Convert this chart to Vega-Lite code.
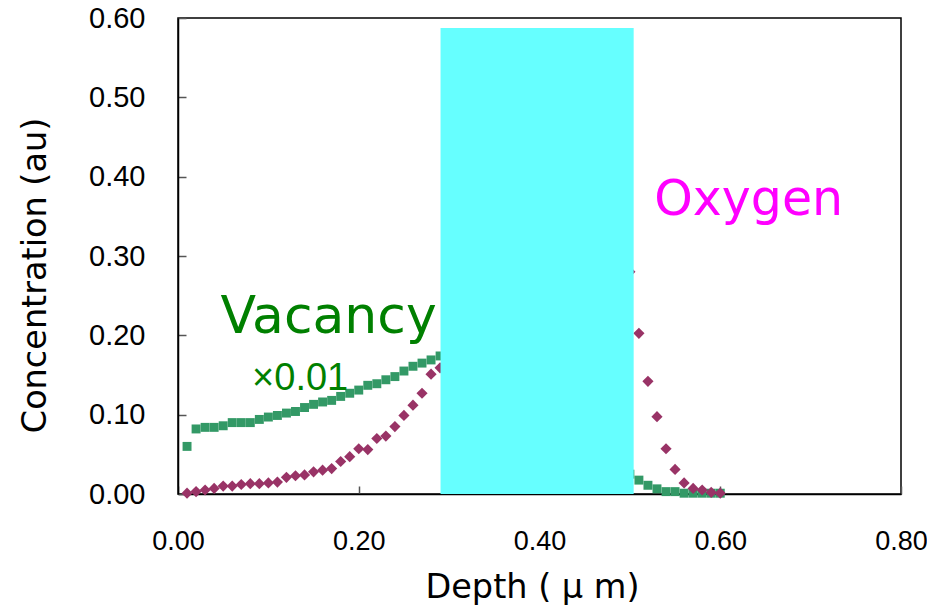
{
  "$schema": "https://vega.github.io/schema/vega-lite/v6.json",
  "autosize": {"type": "none"},
  "width": 723,
  "height": 476,
  "padding": {"left": 178, "top": 18, "right": 26, "bottom": 114},
  "background": "white",
  "config": {
    "view": {"stroke": "black", "strokeWidth": 1.5},
    "axis": {
      "grid": false,
      "domainColor": "black",
      "domainWidth": 1.5,
      "tickColor": "#555555",
      "tickWidth": 1.5,
      "labelFont": "Liberation Sans, Arial",
      "labelFontSize": 29,
      "labelColor": "black",
      "labelFlush": false,
      "labelOverlap": false,
      "titleFont": "DejaVu Sans",
      "titleFontWeight": "normal",
      "titleFontSize": 33.5,
      "titleColor": "black"
    }
  },
  "datasets": {
    "profile": [
      {"depth": 0.01, "species": "Vacancy", "conc": 0.060},
      {"depth": 0.02, "species": "Vacancy", "conc": 0.082},
      {"depth": 0.03, "species": "Vacancy", "conc": 0.084},
      {"depth": 0.04, "species": "Vacancy", "conc": 0.084},
      {"depth": 0.05, "species": "Vacancy", "conc": 0.086},
      {"depth": 0.06, "species": "Vacancy", "conc": 0.090},
      {"depth": 0.07, "species": "Vacancy", "conc": 0.090},
      {"depth": 0.08, "species": "Vacancy", "conc": 0.090},
      {"depth": 0.09, "species": "Vacancy", "conc": 0.094},
      {"depth": 0.10, "species": "Vacancy", "conc": 0.097},
      {"depth": 0.11, "species": "Vacancy", "conc": 0.099},
      {"depth": 0.12, "species": "Vacancy", "conc": 0.102},
      {"depth": 0.13, "species": "Vacancy", "conc": 0.104},
      {"depth": 0.14, "species": "Vacancy", "conc": 0.109},
      {"depth": 0.15, "species": "Vacancy", "conc": 0.113},
      {"depth": 0.16, "species": "Vacancy", "conc": 0.116},
      {"depth": 0.17, "species": "Vacancy", "conc": 0.118},
      {"depth": 0.18, "species": "Vacancy", "conc": 0.123},
      {"depth": 0.19, "species": "Vacancy", "conc": 0.127},
      {"depth": 0.20, "species": "Vacancy", "conc": 0.131},
      {"depth": 0.21, "species": "Vacancy", "conc": 0.137},
      {"depth": 0.22, "species": "Vacancy", "conc": 0.139},
      {"depth": 0.23, "species": "Vacancy", "conc": 0.144},
      {"depth": 0.24, "species": "Vacancy", "conc": 0.148},
      {"depth": 0.25, "species": "Vacancy", "conc": 0.155},
      {"depth": 0.26, "species": "Vacancy", "conc": 0.161},
      {"depth": 0.27, "species": "Vacancy", "conc": 0.165},
      {"depth": 0.28, "species": "Vacancy", "conc": 0.169},
      {"depth": 0.29, "species": "Vacancy", "conc": 0.174},
      {"depth": 0.50, "species": "Vacancy", "conc": 0.025},
      {"depth": 0.51, "species": "Vacancy", "conc": 0.0175},
      {"depth": 0.52, "species": "Vacancy", "conc": 0.011},
      {"depth": 0.53, "species": "Vacancy", "conc": 0.0065},
      {"depth": 0.54, "species": "Vacancy", "conc": 0.003},
      {"depth": 0.55, "species": "Vacancy", "conc": 0.003},
      {"depth": 0.56, "species": "Vacancy", "conc": 0.001},
      {"depth": 0.57, "species": "Vacancy", "conc": 0.001},
      {"depth": 0.58, "species": "Vacancy", "conc": 0.001},
      {"depth": 0.59, "species": "Vacancy", "conc": 0.001},
      {"depth": 0.60, "species": "Vacancy", "conc": 0.001},
      {"depth": 0.01, "species": "Oxygen", "conc": 0.001},
      {"depth": 0.02, "species": "Oxygen", "conc": 0.003},
      {"depth": 0.03, "species": "Oxygen", "conc": 0.005},
      {"depth": 0.04, "species": "Oxygen", "conc": 0.007},
      {"depth": 0.05, "species": "Oxygen", "conc": 0.010},
      {"depth": 0.06, "species": "Oxygen", "conc": 0.010},
      {"depth": 0.07, "species": "Oxygen", "conc": 0.012},
      {"depth": 0.08, "species": "Oxygen", "conc": 0.013},
      {"depth": 0.09, "species": "Oxygen", "conc": 0.013},
      {"depth": 0.10, "species": "Oxygen", "conc": 0.014},
      {"depth": 0.11, "species": "Oxygen", "conc": 0.015},
      {"depth": 0.12, "species": "Oxygen", "conc": 0.021},
      {"depth": 0.13, "species": "Oxygen", "conc": 0.023},
      {"depth": 0.14, "species": "Oxygen", "conc": 0.024},
      {"depth": 0.15, "species": "Oxygen", "conc": 0.028},
      {"depth": 0.16, "species": "Oxygen", "conc": 0.030},
      {"depth": 0.17, "species": "Oxygen", "conc": 0.032},
      {"depth": 0.18, "species": "Oxygen", "conc": 0.041},
      {"depth": 0.19, "species": "Oxygen", "conc": 0.047},
      {"depth": 0.20, "species": "Oxygen", "conc": 0.057},
      {"depth": 0.21, "species": "Oxygen", "conc": 0.056},
      {"depth": 0.22, "species": "Oxygen", "conc": 0.070},
      {"depth": 0.23, "species": "Oxygen", "conc": 0.073},
      {"depth": 0.24, "species": "Oxygen", "conc": 0.085},
      {"depth": 0.25, "species": "Oxygen", "conc": 0.099},
      {"depth": 0.26, "species": "Oxygen", "conc": 0.112},
      {"depth": 0.27, "species": "Oxygen", "conc": 0.127},
      {"depth": 0.28, "species": "Oxygen", "conc": 0.151},
      {"depth": 0.29, "species": "Oxygen", "conc": 0.159},
      {"depth": 0.50, "species": "Oxygen", "conc": 0.280},
      {"depth": 0.51, "species": "Oxygen", "conc": 0.2025},
      {"depth": 0.52, "species": "Oxygen", "conc": 0.142},
      {"depth": 0.53, "species": "Oxygen", "conc": 0.0975},
      {"depth": 0.54, "species": "Oxygen", "conc": 0.057},
      {"depth": 0.55, "species": "Oxygen", "conc": 0.031},
      {"depth": 0.56, "species": "Oxygen", "conc": 0.014},
      {"depth": 0.57, "species": "Oxygen", "conc": 0.007},
      {"depth": 0.58, "species": "Oxygen", "conc": 0.005},
      {"depth": 0.59, "species": "Oxygen", "conc": 0.002},
      {"depth": 0.60, "species": "Oxygen", "conc": 0.001}
    ],
    "band": [
      {"depth": 0.2905, "depthEnd": 0.5042, "conc": 0, "concEnd": 0.5875}
    ],
    "notes": [
      {"depth": 0.047, "conc": 0.2035, "label": "Vacancy", "kind": "big-green"},
      {"depth": 0.082, "conc": 0.1316, "label": "×0.01", "kind": "small-green"},
      {"depth": 0.527, "conc": 0.352, "label": "Oxygen", "kind": "big-magenta"}
    ]
  },
  "encoding": {
    "x": {
      "field": "depth",
      "type": "quantitative",
      "scale": {"domain": [0, 0.8], "nice": false, "zero": false},
      "axis": {
        "values": [0, 0.2, 0.4, 0.6, 0.8],
        "format": ".2f",
        "tickSize": -8,
        "labelFontSize": 27,
        "labelPadding": 42,
        "title": "Depth ( μ m)",
        "titleX": 354,
        "titleY": 103,
        "titleBaseline": "alphabetic"
      }
    },
    "y": {
      "field": "conc",
      "type": "quantitative",
      "scale": {"domain": [0, 0.6], "nice": false},
      "axis": {
        "values": [0, 0.1, 0.2, 0.3, 0.4, 0.5, 0.6],
        "format": ".2f",
        "tickSize": -8,
        "labelPadding": 41,
        "title": "Concentration (au)",
        "titleAngle": -90,
        "titleX": -133,
        "titleY": 257,
        "titleBaseline": "alphabetic"
      }
    }
  },
  "layer": [
    {
      "data": {"name": "profile"},
      "mark": {"type": "point", "filled": true, "opacity": 1, "strokeWidth": 0},
      "encoding": {
        "shape": {
          "field": "species",
          "type": "nominal",
          "scale": {"domain": ["Vacancy", "Oxygen"], "range": ["square", "diamond"]},
          "legend": null
        },
        "color": {
          "field": "species",
          "type": "nominal",
          "scale": {"domain": ["Vacancy", "Oxygen"], "range": ["#339966", "#993366"]},
          "legend": null
        },
        "size": {
          "field": "species",
          "type": "nominal",
          "scale": {"domain": ["Vacancy", "Oxygen"], "range": [80, 125]},
          "legend": null
        }
      }
    },
    {
      "data": {"name": "band"},
      "mark": {"type": "rect", "fill": "#66FFFF", "fillOpacity": 1, "strokeWidth": 0},
      "encoding": {
        "x2": {"field": "depthEnd"},
        "y2": {"field": "concEnd"}
      }
    },
    {
      "data": {"name": "notes"},
      "transform": [{"filter": "datum.kind === 'big-green'"}],
      "mark": {"type": "text", "align": "left", "baseline": "alphabetic", "font": "DejaVu Sans", "fontSize": 52, "color": "#008000"},
      "encoding": {"text": {"field": "label"}}
    },
    {
      "data": {"name": "notes"},
      "transform": [{"filter": "datum.kind === 'small-green'"}],
      "mark": {"type": "text", "align": "left", "baseline": "alphabetic", "font": "Liberation Sans", "fontSize": 38, "color": "#008000"},
      "encoding": {"text": {"field": "label"}}
    },
    {
      "data": {"name": "notes"},
      "transform": [{"filter": "datum.kind === 'big-magenta'"}],
      "mark": {"type": "text", "align": "left", "baseline": "alphabetic", "font": "DejaVu Sans", "fontSize": 49, "color": "#FF00FF"},
      "encoding": {"text": {"field": "label"}}
    }
  ]
}
